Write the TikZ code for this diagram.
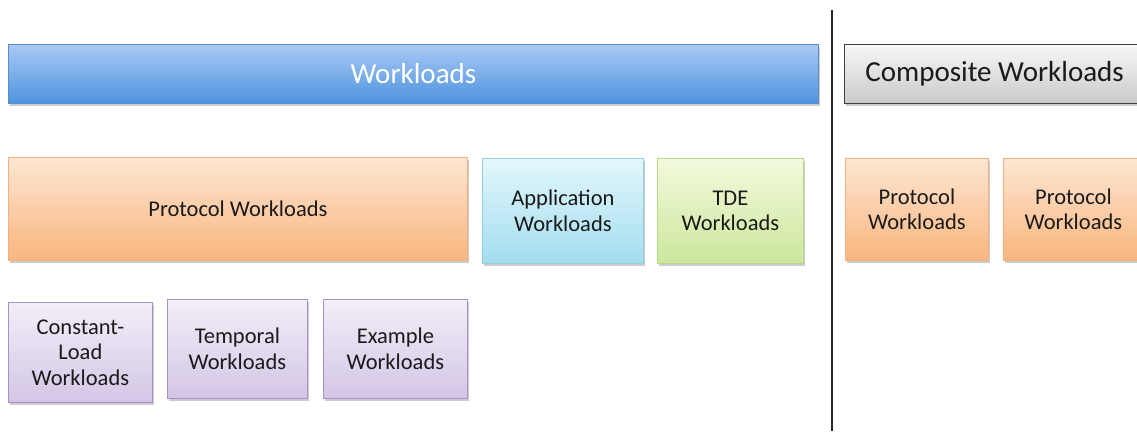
\documentclass[tikz,border=0pt]{standalone}
\usepackage{fontspec}
\setmainfont{Carlito}
\usetikzlibrary{shadows}
\definecolor{blueT}{HTML}{A9C9F4}
\definecolor{blueB}{HTML}{4E93DE}
\definecolor{blueD}{HTML}{5B8FCB}
\definecolor{grayT}{HTML}{F7F7F7}
\definecolor{grayB}{HTML}{C9C9C9}
\definecolor{orT}{HTML}{FDE6D2}
\definecolor{orB}{HTML}{F9B57E}
\definecolor{orD}{HTML}{F3B083}
\definecolor{cyT}{HTML}{E3F7FC}
\definecolor{cyB}{HTML}{A3DDEF}
\definecolor{cyD}{HTML}{93CFE2}
\definecolor{grT}{HTML}{F2F9DC}
\definecolor{grB}{HTML}{CDE79C}
\definecolor{grD}{HTML}{B8D88A}
\definecolor{puT}{HTML}{F3EEF8}
\definecolor{puB}{HTML}{D3C6E6}
\definecolor{puD}{HTML}{A493C4}
\definecolor{txt}{HTML}{1A1A1A}
\tikzset{
  box/.style={draw, line width=0.8pt, inner sep=0pt, align=center, text=txt, font=\fontsize{22.5}{25.5}\selectfont,
     drop shadow={shadow xshift=1.5pt, shadow yshift=-2.5pt, opacity=0.4, fill=gray}},
  bluebox/.style={box, draw=blueD, top color=blueT, bottom color=blueB, text=white, font=\fontsize{29}{32}\selectfont},
  graybox/.style={box, draw=black!75, line width=1.2pt, top color=grayT, bottom color=grayB, font=\fontsize{29}{32}\selectfont},
  orbox/.style={box, draw=orD, top color=orT, bottom color=orB},
  cybox/.style={box, draw=cyD, top color=cyT, bottom color=cyB},
  grbox/.style={box, draw=grD, top color=grT, bottom color=grB},
  pubox/.style={box, draw=puD, top color=puT, bottom color=puB},
}
\begin{document}
\begin{tikzpicture}[x=1pt,y=-1pt]
\useasboundingbox (0,0) rectangle (1137,431);
\node[bluebox, minimum width=810pt, minimum height=59pt, anchor=north west] (wl) at (8,44) {Workloads};
\node[graybox, minimum width=300pt, minimum height=59pt, anchor=north west] (cw) at (844,44) {Composite Workloads};
\node[orbox, minimum width=459pt, minimum height=103pt, anchor=north west] (pw) at (8,157) {Protocol Workloads};
\node[cybox, minimum width=161pt, minimum height=105pt, anchor=north west] (aw) at (482,158) {Application\\Workloads};
\node[grbox, minimum width=146pt, minimum height=105pt, anchor=north west] (tw) at (657,158) {TDE\\Workloads};
\node[orbox, minimum width=143pt, minimum height=102pt, anchor=north west] (p1) at (845,158) {Protocol\\Workloads};
\node[orbox, minimum width=140pt, minimum height=102pt, anchor=north west] (p2) at (1003,158) {Protocol\\Workloads};
\node[pubox, minimum width=144pt, minimum height=100pt, anchor=north west] (cl) at (8,302) {Constant-\\Load\\Workloads};
\node[pubox, minimum width=140pt, minimum height=99pt, anchor=north west] (tp) at (167,299) {Temporal\\Workloads};
\node[pubox, minimum width=144pt, minimum height=99pt, anchor=north west] (ex) at (323,299) {Example\\Workloads};
\coordinate (lt) at (832,10);
\coordinate (lb) at (832,431);
\draw[line width=2.5pt, black!85] (lt) -- (lb);
\end{tikzpicture}
\end{document}
